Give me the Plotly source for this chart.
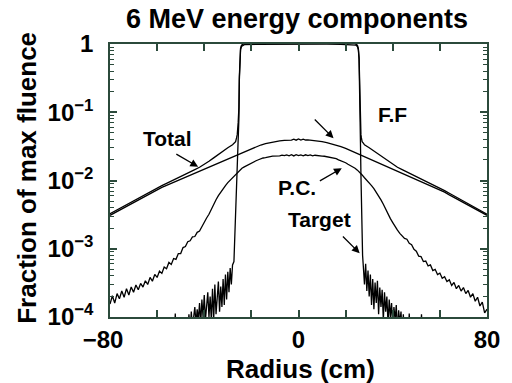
import plotly.graph_objects as go

# ---------------- data ----------------
# F.F (flattening filter) component
ff_x = [-80, -78, -76, -74, -72, -70, -68, -66, -64, -62, -60, -58, -56, -54, -52, -50, -48, -46, -44, -42,
        -40, -38, -36, -34, -32, -30, -28, -26, -24, -22, -20, -18, -16, -14, -12, -10, -8, -6, -4,
        -3, -2, -1, 0, 1, 2, 3,
        4, 6, 8, 10, 12, 14, 16, 18, 20, 22, 24, 26, 28, 30, 32, 34, 36, 38, 40,
        42, 44, 46, 48, 50, 52, 54, 56, 58, 60, 62, 64, 66, 68, 70, 72, 74, 76, 78, 80]
ff_y = [0.00309, 0.00337, 0.00367, 0.00400, 0.00437, 0.00475, 0.00519, 0.00565, 0.00617, 0.00676,
        0.00741, 0.00794, 0.00851, 0.00912, 0.00977, 0.01047, 0.01122, 0.01202, 0.01288, 0.01380,
        0.01479, 0.01585, 0.01698, 0.01820, 0.01950, 0.02089, 0.02239, 0.02399, 0.02570, 0.02754,
        0.02951, 0.03133, 0.03311, 0.03459, 0.03589, 0.03707, 0.03802, 0.03882, 0.03936,
        0.0391, 0.0404, 0.0390, 0.0407, 0.0391, 0.0403, 0.0392,
        0.03936, 0.03882, 0.03802, 0.03707, 0.03589, 0.03459, 0.03311, 0.03133, 0.02951, 0.02754,
        0.02570, 0.02399, 0.02239, 0.02089, 0.01950, 0.01820, 0.01698, 0.01585, 0.01479,
        0.01380, 0.01288, 0.01202, 0.01122, 0.01047, 0.00977, 0.00912, 0.00851, 0.00794, 0.00741,
        0.00676, 0.00617, 0.00565, 0.00519, 0.00475, 0.00437, 0.00400, 0.00367, 0.00337, 0.00309]

# P.C. (primary collimator) component, radius -80..80 cm in 1 cm steps, values in units of 1e-4
pc_x = list(range(-80, 81))
pc_e4 = [1.55, 2.05, 1.6, 2.2, 1.85, 2.4, 1.95, 2.6, 2.1, 2.75, 2.3, 2.95, 2.5, 3.1, 2.75, 3.4, 3.0, 3.8,
         3.35, 4.2, 3.8, 4.7, 4.35, 5.4, 5.1, 6.3, 5.9, 7.2, 7.0, 8.5, 8.5, 10.4, 10.8, 12.7, 13.1, 14.9,
         15.1, 17.4, 18.2, 21.3, 23.6, 28.2, 32.0, 38.3, 44.3, 52.3, 59.9, 67.9, 75.6, 84.3, 93.0, 101.2,
         109.4, 121.1, 131.6, 142.1, 151.2, 158.3, 165.7, 173.3, 181.6, 188.4, 194.6, 201.4, 208.3, 213.6,
         216.2, 221.8, 223.1, 227.0, 226.5, 231.5, 229.8, 235.0, 231.0, 237.5, 230.5, 239.0, 229.0, 238.5,
         231.0,
         237.0, 230.5, 238.0, 231.5, 236.5, 230.0, 234.5, 230.5, 231.8, 227.0, 226.5, 222.8, 220.5, 216.8,
         212.5, 208.9, 200.8, 195.2, 187.8, 182.2, 172.8, 166.1, 157.9, 151.5, 141.8, 131.9, 120.7, 109.8,
         100.9, 93.4, 84.0, 75.8, 67.5, 60.1, 52.1, 44.8, 37.8, 32.6, 27.6, 24.2, 20.8, 18.8, 16.8, 15.7,
         14.2, 13.8, 12.0, 11.5, 9.8, 9.2, 7.8, 7.7, 6.5, 6.6, 5.6, 5.8, 4.8, 5.0, 4.2, 4.4, 3.7, 3.9,
         3.3, 3.5, 2.9, 3.2, 2.6, 2.9, 2.4, 2.7, 2.2, 2.45, 1.95, 2.2, 1.7, 1.95, 1.45, 1.65, 1.15, 1.3]
pc_y = [v * 1e-4 for v in pc_e4]

# Target component
tgt_x = [-80, -53, -52.3, -51.6, -47.5,
         -47, -46.5, -46, -45.5, -45, -44.5, -44, -43.5, -43, -42.5, -42, -41.5, -41, -40.5, -40,
         -39.5, -39, -38.5, -38, -37.5, -37, -36.5, -36, -35.5, -35, -34.5, -34, -33.5, -33, -32.5,
         -32, -31.5, -31, -30.5, -30, -29.5, -29, -28.5, -28,
         -27.4, -27.0, -26.7, -26.3, -26.0, -25.6, -25.3, -25.1, -24.9, -24.6, -24.2, -23.6, -23.0,
         -18, -12, -6, 0, 6, 12, 18,
         23.8, 24.4, 25.0, 25.4, 25.7, 25.9, 26.1, 26.3, 26.5, 26.7, 27.0, 27.2,
         27.5, 28, 28.5, 29, 29.5, 30, 30.5, 31, 31.5, 32, 32.5, 33, 33.5, 34, 34.5, 35, 35.5, 36,
         36.5, 37, 37.5, 38, 38.5, 39, 39.5, 40, 40.5, 41, 41.5, 42, 42.5, 43, 43.5, 44, 44.5, 45,
         46.3, 47, 47.7, 51.5, 52.2, 52.9, 80]
tgt_y = [3e-5, 3e-5, 1.12e-4, 3e-5, 3e-5,
         5e-5, 1.1e-4, 6e-5, 1.2e-4, 7e-5, 1.05e-4, 1.4e-4, 8e-5, 1.3e-4, 9e-5, 1.6e-4, 8e-5, 1.8e-4,
         1.0e-4, 2.1e-4, 9e-5, 1.6e-4, 2.3e-4, 1.0e-4, 2.0e-4, 9e-5, 2.6e-4, 9e-5, 3.0e-4, 1.1e-4,
         2.4e-4, 3.3e-4, 1.2e-4, 2.8e-4, 1.4e-4, 3.6e-4, 1.5e-4, 4.2e-4, 1.8e-4, 4.6e-4, 2.3e-4,
         5.2e-4, 3.0e-4, 5.8e-4,
         6.5e-4, 1.5e-3, 2.6e-3, 6e-3, 0.0114, 0.035, 0.08, 0.3, 0.6, 0.82, 0.92, 0.96, 0.98,
         0.99, 0.995, 0.99, 0.995, 0.99, 0.995, 0.99,
         0.98, 0.96, 0.92, 0.82, 0.6, 0.3, 0.08, 0.035, 0.012, 4e-3, 1.6e-3, 8e-4,
         5.6e-4, 3.0e-4, 6e-4, 2.4e-4, 4.8e-4, 2.0e-4, 4.2e-4, 1.5e-4, 3.6e-4, 1.3e-4, 3.2e-4, 1.6e-4,
         3.4e-4, 1.1e-4, 2.7e-4, 1.4e-4, 2.5e-4, 9e-5, 2.3e-4, 1.2e-4, 2.0e-4, 8e-5, 1.8e-4, 1.0e-4,
         1.6e-4, 7e-5, 1.4e-4, 9e-5, 1.5e-4, 6e-5, 1.25e-4, 8e-5, 1.2e-4, 5e-5, 1.1e-4, 4e-5,
         3e-5, 1.12e-4, 3e-5, 3e-5, 1.1e-4, 3e-5, 3e-5]

# Total fluence
tot_x = [-80, -78, -76, -74, -72, -70, -68, -66, -64, -62, -60, -58, -56, -54, -52, -50, -48, -46, -44,
         -42, -40, -38, -36, -34, -32, -30, -28,
         -27.4, -26.7, -26.3, -26.0, -25.6, -25.3, -25.1, -24.9, -24.6, -24.2, -23.6, -23.0, 0,
         23.8, 24.4, 25.0, 25.4, 25.7, 25.9, 26.1, 26.3, 26.5, 26.7, 27.0, 27.6,
         28, 30, 32, 34, 36, 38, 40, 42, 44, 46, 48, 50, 52, 54, 56, 58, 60, 62, 64, 66, 68, 70, 72,
         74, 76, 78, 80]
tot_y = [0.00326, 0.00356, 0.00387, 0.00422, 0.00460, 0.00500, 0.00546, 0.00595, 0.00649, 0.00712,
         0.00782, 0.00841, 0.00906, 0.00975, 0.01051, 0.01136, 0.01234, 0.01337, 0.01443, 0.01566,
         0.01719, 0.01909, 0.02145, 0.02423, 0.02709, 0.03022, 0.03335,
         0.0350, 0.037, 0.042, 0.047, 0.071, 0.116, 0.336, 0.64, 0.86, 0.96, 0.99, 1.02, 1.06,
         1.02, 0.99, 0.96, 0.86, 0.64, 0.336, 0.116, 0.071, 0.047, 0.042, 0.037, 0.0350,
         0.03335, 0.03022, 0.02709, 0.02423, 0.02145, 0.01909, 0.01719, 0.01566, 0.01443, 0.01337,
         0.01234, 0.01136, 0.01051, 0.00975, 0.00906, 0.00841, 0.00782, 0.00712, 0.00649, 0.00595,
         0.00546, 0.00500, 0.00459, 0.00420, 0.00384, 0.00351, 0.00321]

x_tickvals = [-80, -60, -40, -20, 0, 20, 40, 60, 80]
x_ticktext = ["\u221280<span style='color:rgba(0,0,0,0)'>\u2212</span>", "", "", "", "0", "", "", "", "80"]
y_tickvals = [1e-4, 1e-3, 1e-2, 1e-1, 1]
y_ticktext = ["10<sup>\u22124</sup>", "10<sup>\u22123</sup>", "10<sup>\u22122</sup>",
              "10<sup>\u22121</sup>", "1"]
y_minor = [k * 10.0 ** e for e in (-4, -3, -2, -1) for k in range(2, 10)]

# ---------------- figure ----------------
FONT = "Liberation Sans, Arial, Helvetica, sans-serif"
AX = "#2b4a3b"
LINE = dict(color="black", width=1.3)

fig = go.Figure()
for xs, ys, nm in [(ff_x, ff_y, "F.F"), (pc_x, pc_y, "P.C."), (tgt_x, tgt_y, "Target"),
                   (tot_x, tot_y, "Total")]:
    fig.add_trace(go.Scatter(x=xs, y=ys, mode="lines", line=LINE, name=nm, showlegend=False))

L, R, T, B = 110, 17, 44, 66
W, H = 512, 383
PW, PH = W - L - R, H - T - B


def px(x):
    return (x - L) / PW


def py(y):
    return (H - B - y) / PH


fig.update_layout(
    width=W, height=H, margin=dict(l=L, r=R, t=T, b=B),
    paper_bgcolor="white", plot_bgcolor="white",
    font=dict(family=FONT, color="black"),
    xaxis=dict(range=[-80, 80], showgrid=False, zeroline=False, showline=True, mirror="ticks",
               linecolor=AX, linewidth=1.6, ticks="inside", ticklen=7, tickwidth=1.6, tickcolor=AX,
               tickvals=x_tickvals, ticktext=x_ticktext,
               tickfont=dict(size=24, weight="bold"), ticklabelstandoff=0),
    yaxis=dict(type="log", range=[-4, 0], showgrid=False, zeroline=False, showline=True,
               mirror="ticks", linecolor=AX, linewidth=1.6, ticks="inside", ticklen=7,
               tickwidth=1.6, tickcolor=AX, tickvals=y_tickvals, ticktext=y_ticktext,
               tickfont=dict(size=24, weight="bold"), ticklabelstandoff=10,
               minor=dict(ticks="inside", ticklen=4, tickwidth=1.3, tickcolor=AX, tickvals=y_minor,
                          showgrid=False)),
)

ann = []
# titles
ann.append(dict(text="<b>6 MeV energy components</b>", x=px(301), y=py(19), xref="paper",
                yref="paper", showarrow=False, font=dict(size=27), xanchor="center",
                yanchor="middle"))
ann.append(dict(text="<b>Radius (cm)</b>", x=px(305), y=py(369), xref="paper", yref="paper",
                showarrow=False, font=dict(size=26), xanchor="center", yanchor="middle"))
ann.append(dict(text="<b>Fraction of max fluence</b>", x=px(25), y=py(178), xref="paper",
                yref="paper", showarrow=False, font=dict(size=26), textangle=-90,
                xanchor="center", yanchor="middle"))
# curve labels
labels = [("Total", 169, 138), ("F.F", 399, 114), ("P.C.", 301, 187), ("Target", 324, 220)]
for t, lx, ly in labels:
    ann.append(dict(text="<b>%s</b>" % t, x=px(lx), y=py(ly), xref="paper", yref="paper",
                    showarrow=False, font=dict(size=21), xanchor="center", yanchor="middle"))
# arrows: (head x, head y, tail x, tail y)
arrows = [(200, 166.7, 176.7, 153.3), (338.3, 138.3, 318, 118), (346.7, 168.3, 323.3, 181.7),
          (365, 253.3, 346.7, 235)]
for hx, hy, tx, ty in arrows:
    ann.append(dict(text="", x=px(hx), y=py(hy), xref="paper", yref="paper", showarrow=True,
                    ax=tx - hx, ay=ty - hy, axref="pixel", ayref="pixel", arrowhead=2,
                    arrowsize=1.2, arrowwidth=1.3, arrowcolor="black", standoff=0))
fig.update_layout(annotations=ann)

fig.write_html("out.html")
